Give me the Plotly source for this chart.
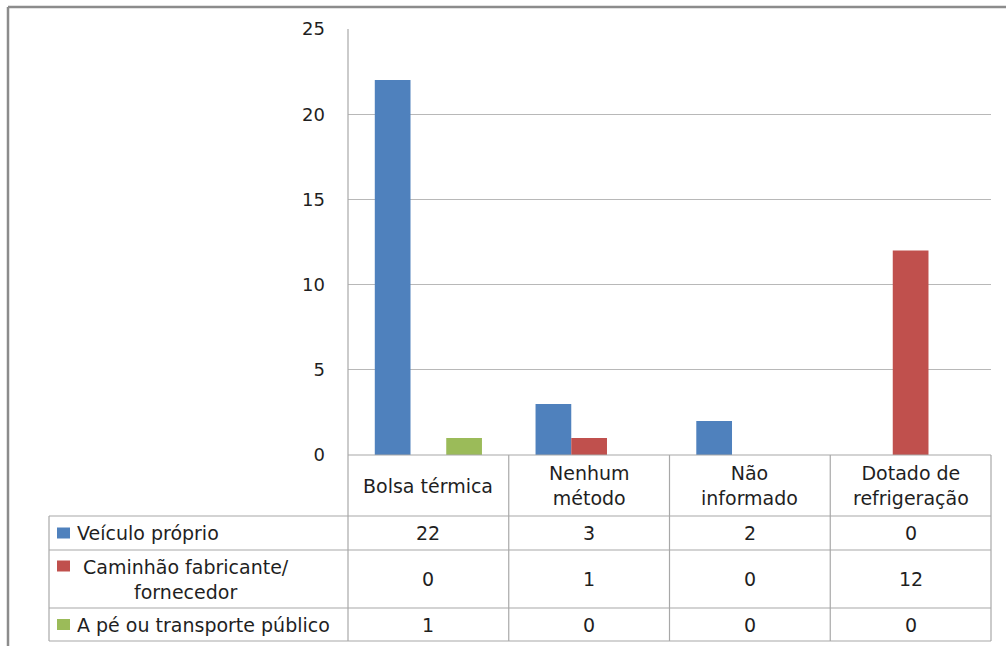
import plotly.graph_objects as go

# Categories (storage method) and series (transport method)
categories = ["Bolsa térmica", "Nenhum<br>método", "Não<br>informado", "Dotado de<br>refrigeração"]
series_names = ["Veículo próprio", "Caminhão fabricante/<br>fornecedor", "A pé ou transporte público"]
veiculo_proprio = [22, 3, 2, 0]
caminhao_fornecedor = [0, 1, 0, 12]
a_pe_transporte = [1, 0, 0, 0]
series_values = [veiculo_proprio, caminhao_fornecedor, a_pe_transporte]
series_colors = ["#4F81BD", "#C0504D", "#9BBB59"]
y_ticks = [0, 5, 10, 15, 20, 25]

W, H = 1006, 646
FONT = "DejaVu Sans"
TXT = "#1f1f1f"
GRID = "#B8B8B8"
TABLE = "#A8A8A8"


def px(x):
    return x / W


def py(y):
    return 1 - y / H


# Layout geometry (pixels)
PLOT_L, PLOT_R, PLOT_T, PLOT_B = 348, 991, 29, 455
TABLE_L = 49
ROW_Y = [455, 516, 550, 608, 641]
col_w = (PLOT_R - PLOT_L) / len(categories)
COL_X = [PLOT_L + i * col_w for i in range(len(categories) + 1)]

fig = go.Figure()
for name, vals, color in zip(series_names, series_values, series_colors):
    fig.add_trace(go.Bar(x=list(range(len(categories))), y=vals, name=name,
                         marker=dict(color=color, line=dict(width=0)),
                         showlegend=False, hoverinfo="y"))

shapes = []
# outer chart border (only the top and left edges fall inside the page)
shapes.append(dict(type="line", xref="paper", yref="paper",
                   x0=px(8), x1=1, y0=py(7), y1=py(7),
                   line=dict(color="#8C8C8C", width=2.5)))
shapes.append(dict(type="line", xref="paper", yref="paper",
                   x0=px(8), x1=px(8), y0=0, y1=py(7),
                   line=dict(color="#8C8C8C", width=2.5)))


def hline(y, x0, x1, color=TABLE, w=1.2):
    shapes.append(dict(type="line", xref="paper", yref="paper",
                       x0=px(x0), x1=px(x1), y0=py(y), y1=py(y),
                       line=dict(color=color, width=w)))


def vline(x, y0, y1, color=TABLE, w=1.2):
    shapes.append(dict(type="line", xref="paper", yref="paper",
                       x0=px(x), x1=px(x), y0=py(y0), y1=py(y1),
                       line=dict(color=color, width=w)))


# data table grid
hline(ROW_Y[0], PLOT_L, PLOT_R)
for y in ROW_Y[1:]:
    hline(y, TABLE_L, PLOT_R)
vline(TABLE_L, ROW_Y[1], ROW_Y[-1])
vline(PLOT_L, PLOT_T, ROW_Y[-1])
for x in COL_X[1:]:
    vline(x, ROW_Y[0], ROW_Y[-1])

annotations = []
FS = 19

# category header row
for i, cat in enumerate(categories):
    annotations.append(dict(xref="paper", yref="paper",
                            x=px((COL_X[i] + COL_X[i + 1]) / 2),
                            y=py((ROW_Y[0] + ROW_Y[1]) / 2),
                            text=cat, showarrow=False, xanchor="center", yanchor="middle",
                            font=dict(family=FONT, size=FS, color=TXT)))

# series rows: legend key + values
for r, (name, vals, color) in enumerate(zip(series_names, series_values, series_colors)):
    top, bot = ROW_Y[r + 1], ROW_Y[r + 2]
    cy = (top + bot) / 2
    if "<br>" in name:
        key_y = top + 16
        annotations.append(dict(xref="paper", yref="paper", x=px(186), y=py(cy),
                                text=name, showarrow=False, xanchor="center", yanchor="middle",
                                align="center", font=dict(family=FONT, size=FS, color=TXT)))
    else:
        key_y = cy
        annotations.append(dict(xref="paper", yref="paper", x=px(75), y=py(cy),
                                text=name, showarrow=False, xanchor="left", yanchor="middle",
                                font=dict(family=FONT, size=FS, color=TXT)))
    shapes.append(dict(type="rect", xref="paper", yref="paper",
                       x0=px(57), x1=px(70), y0=py(key_y + 5.5), y1=py(key_y - 5.5),
                       fillcolor=color, line=dict(width=0)))
    for i, v in enumerate(vals):
        annotations.append(dict(xref="paper", yref="paper",
                                x=px((COL_X[i] + COL_X[i + 1]) / 2), y=py(cy),
                                text=str(v), showarrow=False, xanchor="center", yanchor="middle",
                                font=dict(family=FONT, size=FS, color=TXT)))

fig.update_layout(
    width=W, height=H,
    margin=dict(l=0, r=0, t=0, b=0, pad=0, autoexpand=False),
    paper_bgcolor="white", plot_bgcolor="white",
    barmode="group", bargap=1.5 / 4.5, bargroupgap=0,
    xaxis=dict(domain=[px(PLOT_L), px(PLOT_R)], range=[-0.5, len(categories) - 0.5],
               showticklabels=False, showgrid=False, zeroline=False, showline=False,
               automargin=False, fixedrange=True),
    yaxis=dict(domain=[py(PLOT_B), py(PLOT_T)], range=[0, 25], tickvals=y_ticks,
               showgrid=True, gridcolor=GRID, gridwidth=1.2, zeroline=False,
               showline=False, ticks="", ticklabelstandoff=22, automargin=False,
               tickfont=dict(family=FONT, size=18, color=TXT), fixedrange=True),
    shapes=shapes, annotations=annotations,
)

fig.write_html("out.html")
